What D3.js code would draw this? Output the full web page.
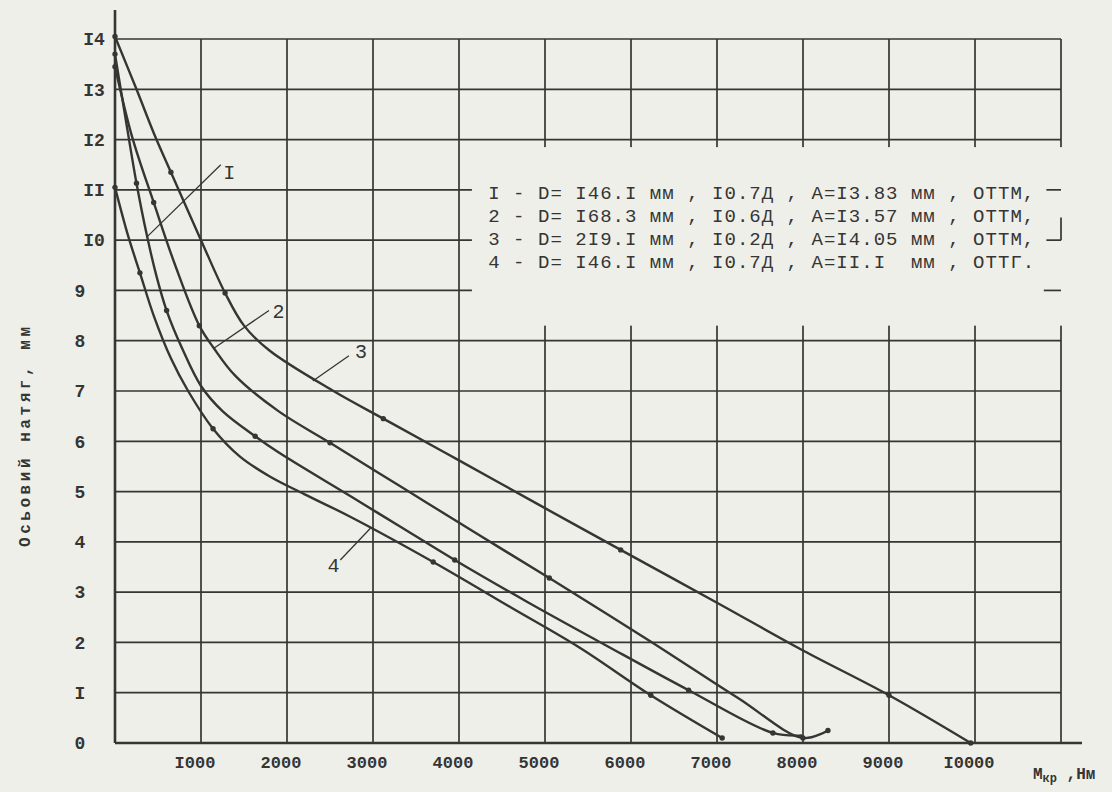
<!DOCTYPE html>
<html>
<head>
<meta charset="utf-8">
<script src="https://cdn.jsdelivr.net/npm/d3@7/dist/d3.min.js"></script>
<style>
    html, body { margin: 0; padding: 0; background: #efefea; }
    svg { display: block; }
    text { font-family: 'Liberation Mono', 'DejaVu Sans Mono', monospace; fill: #353533; }
</style>
</head>
<body>
<svg id="chart" width="1112" height="792"></svg>
<script>
(function() {
    'use strict';

    // torque, N*m  /  axial pull, mm
    var curve1 = [[0, 13.7], [120, 12.45], [250, 11.13], [370, 10.1], [480, 9.3], [600, 8.6], [780, 7.85], [1000, 7.1], [1250, 6.6], [1630, 6.1], [1900, 5.78], [2735, 4.91], [3300, 4.32], [3950, 3.64], [4800, 2.8], [5700, 1.95], [6670, 1.05], [7650, 0.2], [7990, 0.15]];
    var curve2 = [[0, 13.45], [200, 12.05], [450, 10.75], [700, 9.5], [980, 8.3], [1150, 7.85], [1400, 7.3], [1900, 6.6], [2500, 5.97], [3350, 5.07], [4200, 4.17], [5050, 3.28], [6200, 2.05], [7240, 0.9], [8000, 0.1], [8290, 0.25]];
    var curve3 = [[0, 14.05], [250, 13], [470, 12.05], [650, 11.35], [1000, 10], [1280, 8.95], [1500, 8.3], [1800, 7.8], [2540, 7], [3120, 6.45], [4000, 5.62], [5000, 4.67], [5880, 3.84], [7000, 2.79], [8000, 1.84], [9000, 0.95], [9950, 0]];
    var curve4 = [[0, 11.05], [150, 10.1], [290, 9.35], [450, 8.5], [650, 7.65], [850, 7.0], [1140, 6.25], [1450, 5.7], [1800, 5.3], [2200, 4.95], [2735, 4.5], [3700, 3.6], [4600, 2.7], [5400, 1.9], [6230, 0.95], [7060, 0.1]];

    // measured points marked on the curves
    var dots1 = [[0, 13.7], [250, 11.13], [600, 8.6], [1630, 6.1], [3950, 3.64], [6670, 1.05], [7650, 0.2]];
    var dots2 = [[0, 13.45], [450, 10.75], [980, 8.3], [2500, 5.97], [5050, 3.28], [8000, 0.1], [8290, 0.25]];
    var dots3 = [[0, 14.05], [650, 11.35], [1280, 8.95], [3120, 6.45], [5880, 3.84], [9000, 0.95], [9950, 0]];
    var dots4 = [[0, 11.05], [290, 9.35], [1140, 6.25], [3700, 3.6], [6230, 0.95], [7060, 0.1]];

    var xTicks = [1000, 2000, 3000, 4000, 5000, 6000, 7000, 8000, 9000, 10000];
    var xTickLabels = ['I000', '2000', '3000', '4000', '5000', '6000', '7000', '8000', '9000', 'I0000'];
    var yTicks = [0, 1, 2, 3, 4, 5, 6, 7, 8, 9, 10, 11, 12, 13, 14];
    var yTickLabels = ['0', 'I', '2', '3', '4', '5', '6', '7', '8', '9', 'I0', 'II', 'I2', 'I3', 'I4'];

    var legendRows = [
        'I - D= I46.I мм , I0.7Д , A=I3.83 мм , ОТТМ,',
        '2 - D= I68.3 мм , I0.6Д , A=I3.57 мм , ОТТМ,',
        '3 - D= 2I9.I мм , I0.2Д , A=I4.05 мм , ОТТМ,',
        '4 - D= I46.I мм , I0.7Д , A=II.I  мм , ОТТГ.'
    ];
    var legendRowY = [10.96, 10.5, 10.04, 9.58];

    // curve tags: text, label position, leader start, leader end (data units)
    var tags = [
        {t: 'I', at: [1330, 11.35], from: [1230, 11.5], to: [375, 10.07]},
        {t: '2', at: [1900, 8.6], from: [1790, 8.6], to: [1150, 7.85]},
        {t: '3', at: [2860, 7.8], from: [2720, 7.7], to: [2300, 7.2]},
        {t: '4', at: [2540, 3.54], from: [2620, 3.64], to: [2970, 4.27]}
    ];

    var ink = '#353533';
    var paper = '#efefea';

    var svg = d3.select('#chart');
    var x = d3.scaleLinear().domain([0, 11000]).range([115, 1061]);
    var y = d3.scaleLinear().domain([0, 14]).range([743, 39]);

    svg.append('rect').attr('width', 1112).attr('height', 792).attr('fill', paper);

    var grid = svg.append('g').attr('stroke', ink).attr('stroke-width', 1.7).attr('fill', 'none');

    // vertical grid lines (last one is the frame)
    grid.selectAll('line.v')
        .data(xTicks.concat([11000]))
        .enter().append('line')
        .attr('class', 'v')
        .attr('x1', function(d) { return x(d); })
        .attr('x2', function(d) { return x(d); })
        .attr('y1', y(14))
        .attr('y2', y(0));

    // horizontal grid lines
    grid.selectAll('line.h')
        .data(yTicks.slice(1))
        .enter().append('line')
        .attr('class', 'h')
        .attr('x1', x(0))
        .attr('x2', x(11000))
        .attr('y1', function(d) { return y(d); })
        .attr('y2', function(d) { return y(d); });

    // blank field for the legend
    svg.append('rect')
        .attr('x', x(4150))
        .attr('y', y(11.85))
        .attr('width', x(11000) - x(4150) + 3)
        .attr('height', y(8.3) - y(11.85))
        .attr('fill', paper);

    // little stubs of the frame left around the legend
    var stubs = [
        [[10830, 11], [11000, 11]],
        [[10830, 10], [11000, 10]],
        [[11000, 10], [11000, 10.45]],
        [[10800, 9], [11000, 9]]
    ];
    svg.append('g').selectAll('path')
        .data(stubs)
        .enter().append('path')
        .attr('d', d3.line().x(function(d) { return x(d[0]); }).y(function(d) { return y(d[1]); }))
        .attr('stroke', ink).attr('stroke-width', 1.7).attr('fill', 'none');

    // axes
    svg.append('line')
        .attr('x1', x(0)).attr('x2', x(0))
        .attr('y1', y(0)).attr('y2', 10)
        .attr('stroke', ink).attr('stroke-width', 2.6);
    svg.append('line')
        .attr('x1', x(0)).attr('x2', 1082)
        .attr('y1', y(0)).attr('y2', y(0))
        .attr('stroke', ink).attr('stroke-width', 2.6);

    // tick labels
    svg.append('g').selectAll('text')
        .data(yTicks)
        .enter().append('text')
        .attr('x', function(d, i) { return yTickLabels[i].length > 1 ? 94 : 80; })
        .attr('y', function(d) { return y(d); })
        .attr('dy', '0.35em')
        .attr('text-anchor', 'middle')
        .attr('font-size', 18)
        .attr('font-weight', 'bold')
        .text(function(d, i) { return yTickLabels[i]; });

    svg.append('g').selectAll('text')
        .data(xTicks)
        .enter().append('text')
        .attr('x', function(d) { return x(d) - 6; })
        .attr('y', 768)
        .attr('text-anchor', 'middle')
        .attr('font-size', 17)
        .attr('font-weight', 'bold')
        .text(function(d, i) { return xTickLabels[i]; });

    // axis titles
    svg.append('text')
        .attr('transform', 'translate(24,437) rotate(-90)')
        .attr('text-anchor', 'middle')
        .attr('dy', '0.35em')
        .attr('font-size', 16)
        .attr('font-weight', 'bold')
        .attr('textLength', 220)
        .attr('lengthAdjust', 'spacing')
        .text('Осьовий натяг, мм');

    var xt = svg.append('text')
        .attr('x', 1033)
        .attr('y', 779)
        .attr('font-size', 16)
        .attr('font-weight', 'bold');
    xt.append('tspan').text('М');
    xt.append('tspan').attr('font-size', 12).attr('dy', 3).text('кр');
    xt.append('tspan').attr('dy', -3).text(' ,Нм');

    // curves
    var line = d3.line()
        .x(function(d) { return x(d[0]); })
        .y(function(d) { return y(d[1]); })
        .curve(d3.curveCatmullRom.alpha(0.5));

    svg.append('g').selectAll('path')
        .data([curve1, curve2, curve3, curve4])
        .enter().append('path')
        .attr('d', line)
        .attr('fill', 'none')
        .attr('stroke', ink)
        .attr('stroke-width', 2.4)
        .attr('stroke-linejoin', 'round');

    svg.append('g').selectAll('circle')
        .data(dots1.concat(dots2, dots3, dots4))
        .enter().append('circle')
        .attr('cx', function(d) { return x(d[0]); })
        .attr('cy', function(d) { return y(d[1]); })
        .attr('r', 2.7)
        .attr('fill', ink);

    // curve tags with leader lines
    var tg = svg.append('g').selectAll('g')
        .data(tags)
        .enter().append('g');
    tg.append('line')
        .attr('x1', function(d) { return x(d.from[0]); })
        .attr('y1', function(d) { return y(d.from[1]); })
        .attr('x2', function(d) { return x(d.to[0]); })
        .attr('y2', function(d) { return y(d.to[1]); })
        .attr('stroke', ink).attr('stroke-width', 1.3);
    tg.append('text')
        .attr('x', function(d) { return x(d.at[0]); })
        .attr('y', function(d) { return y(d.at[1]); })
        .attr('dy', '0.35em')
        .attr('text-anchor', 'middle')
        .attr('font-size', 20)
        .text(function(d) { return d.t; });

    // legend
    svg.append('g').selectAll('text')
        .data(legendRows)
        .enter().append('text')
        .attr('x', x(4340))
        .attr('y', function(d, i) { return y(legendRowY[i]); })
        .attr('dy', '0.35em')
        .attr('font-size', 19)
        .attr('textLength', 546)
        .attr('lengthAdjust', 'spacing')
        .style('white-space', 'pre')
        .text(function(d) { return d; });
})();
</script>
</body>
</html>
